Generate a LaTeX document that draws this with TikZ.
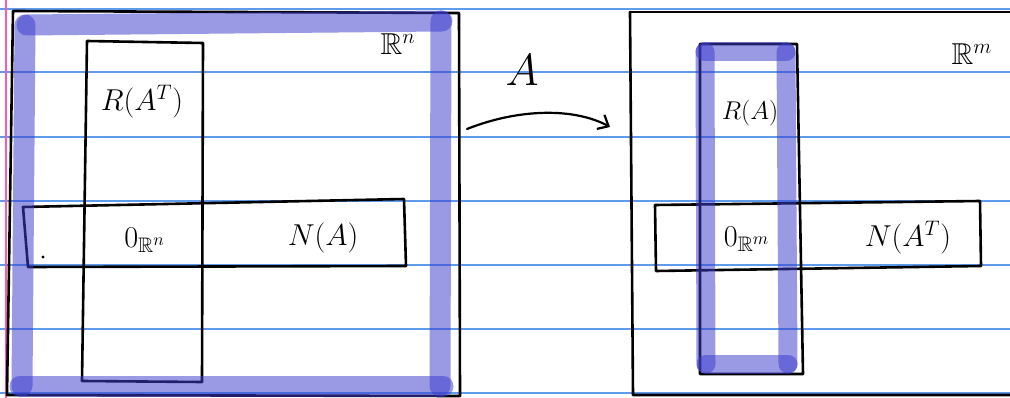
\documentclass[tikz,border=0pt]{standalone}
\usepackage{amssymb}
\usetikzlibrary{arrows.meta}
\definecolor{ruleblue}{RGB}{95,155,235}
\definecolor{marginpink}{RGB}{255,90,165}
\definecolor{hl}{RGB}{60,60,205}
\begin{document}
\begin{tikzpicture}[x=1pt,y=-1pt,
  ink/.style={line width=2.6pt,line cap=round,line join=round,black},
  hilite/.style={line width=21pt,line cap=round,draw=hl,draw opacity=0.52},
  ruling/.style={line width=1.1pt,ruleblue},
  lbl/.style={inner sep=0pt,font=\LARGE,scale=1.75}]
\useasboundingbox (0,0) rectangle (1010,398);
\fill[white] (0,0) rectangle (1010,398);
% ruled paper
\foreach \yy in {9,72,137,201,265,329,393}
  \draw[ruling] (0,\yy) -- (1010,\yy);
\draw[line width=1.2pt,marginpink] (6,0) -- (6,398);

% ---------- left picture ----------
\draw[ink] (13,11) -- (459,13) -- (460,396) -- (7,395) -- cycle;
% R(A^T) box
\draw[ink] (87,41) -- (203,43) -- (202,382) -- (82,381) -- cycle;
% N(A) box
\draw[ink] (23,207) -- (404,199) -- (406,266) -- (28,267) -- cycle;
\fill (43,257) circle (1.6);
% highlight of R^n
\draw[hilite] (27,25) -- (442,21);
\draw[hilite] (25,25) -- (22,386);
\draw[hilite] (441,21) -- (440,386);
\draw[hilite] (20,386) -- (443,386);
% labels
\node[lbl] (rat) at (142,102) {$R(A^T)$};
\node[lbl] (zn) at (145,240) {$0_{\mathbb{R}^n}$};
\node[lbl] (na) at (323,238) {$N(A)$};
\node[lbl] (rn) at (398,44) {$\mathbb{R}^n$};

% ---------- arrow A ----------
\coordinate (as) at (467,129);
\coordinate (ae) at (610,127);
\draw[line width=2.2pt,line cap=round,-{Straight Barb[length=9pt,width=16pt,line width=2.2pt]}]
  (as) .. controls (520,108) and (575,108) .. (ae);
\node[inner sep=0pt,font=\LARGE,scale=2.6] (alab) at (522,70) {$A$};

% ---------- right picture ----------
\draw[ink] (630,12) -- (1012,12);
\draw[ink] (630,12) -- (633,395) -- (1012,395);
% R(A) box
\draw[ink] (700,44) -- (797,44) -- (803,374) -- (700,374) -- cycle;
% N(A^T) box
\draw[ink] (655,205) -- (980,201) -- (981,266) -- (656,271) -- cycle;
% highlight of R(A)
\draw[hilite,line width=19pt] (705,52) -- (786,52);
\draw[hilite,line width=19pt] (705,52) -- (706,364);
\draw[hilite,line width=19pt] (786,52) -- (788,364);
\draw[hilite,line width=19pt] (706,364) -- (788,364);
% labels
\node[lbl,scale=0.85] (ra) at (750,113) {$R(A)$};
\node[lbl] (zm) at (747,239) {$0_{\mathbb{R}^m}$};
\node[lbl] (nat) at (908,238) {$N(A^T)$};
\node[lbl] (rm) at (972,54) {$\mathbb{R}^m$};
\end{tikzpicture}
\end{document}
